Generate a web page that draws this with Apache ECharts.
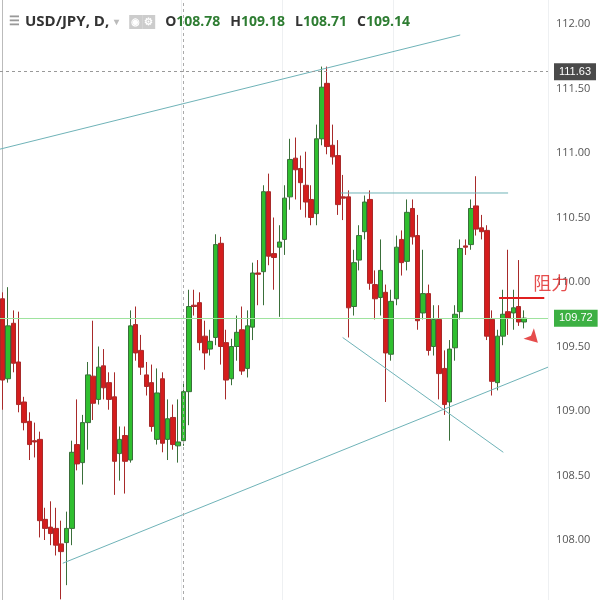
<!DOCTYPE html>
<html><head><meta charset="utf-8">
<script src="https://cdn.jsdelivr.net/npm/echarts@6/dist/echarts.min.js"></script>
<style>html,body{margin:0;padding:0;background:#fff}#c{width:598px;height:600px}</style>
</head><body><div id="c"></div>
<script>
// [open, close, low, high]
const opens  = [109.87,109.25,109.68,109.38,109.07,108.92,108.77,108.78,108.16,108.10,108.09,107.97,107.98,108.09,108.74,108.60,108.91,109.27,109.09,109.35,109.22,109.11,108.67,108.81,108.62,109.67,109.47,109.28,109.22,108.78,109.25,108.78,108.95,108.73,108.77,109.15,109.82,109.84,109.58,109.48,109.57,110.30,109.53,109.25,109.50,109.63,109.33,109.65,110.07,110.08,110.70,110.22,110.27,110.33,110.66,110.96,110.88,110.75,110.64,110.53,111.11,111.54,111.06,110.98,110.66,110.66,109.81,110.17,110.39,110.64,109.98,109.88,109.92,109.44,109.87,110.33,110.16,110.57,110.36,109.76,109.91,109.50,109.71,109.33,109.07,109.49,109.77,110.28,110.29,110.59,110.42,110.40,109.71,109.22,109.58,109.77,109.76,109.81,109.69];
const closes = [109.24,109.66,109.37,109.05,108.91,108.74,108.76,108.15,108.09,108.05,107.96,107.91,108.09,108.68,108.59,108.91,109.28,109.06,109.34,109.18,109.09,108.61,108.78,108.61,109.66,109.45,109.34,109.19,108.88,109.14,108.75,108.94,108.74,108.76,109.15,109.81,109.81,109.53,109.45,109.54,110.29,109.50,109.24,109.50,109.61,109.31,109.66,110.07,110.06,110.70,110.20,110.19,110.31,110.65,110.95,110.87,110.77,110.62,110.50,111.11,111.51,111.05,110.97,110.60,110.65,109.80,110.15,110.36,110.62,109.99,109.87,110.09,109.45,109.85,110.27,110.15,110.54,110.35,109.70,109.91,109.47,109.71,109.29,109.05,109.48,109.75,110.26,110.27,110.57,110.41,110.39,109.58,109.23,109.58,109.75,109.72,109.80,109.69,109.72];
const highs  = [109.92,109.96,109.78,109.77,109.11,108.99,108.91,108.84,108.25,108.30,108.25,108.15,108.22,108.77,109.09,108.97,109.38,109.70,109.50,109.48,109.30,109.30,108.88,108.88,109.78,109.81,109.59,109.38,109.36,109.33,109.30,109.09,109.05,109.09,109.23,109.94,109.94,109.92,109.70,109.63,110.37,110.35,109.63,109.56,109.74,109.81,109.78,110.15,110.17,110.75,110.84,110.50,110.44,110.75,111.11,111.12,110.98,111.01,110.75,111.22,111.67,111.67,111.22,111.10,110.83,110.71,110.25,110.44,110.67,110.71,110.09,110.33,109.98,109.94,110.36,110.40,110.64,110.64,110.52,110.25,109.98,109.82,109.82,109.47,109.55,109.82,110.33,110.33,110.64,110.82,110.52,110.44,109.78,109.63,109.94,110.25,109.94,110.17,109.78];
const lows   = [109.01,109.22,109.30,108.99,108.85,108.62,108.64,108.02,108.00,107.96,107.88,107.54,107.65,107.96,108.54,108.43,108.70,108.93,109.05,109.09,109.01,108.35,108.46,108.36,108.60,109.39,109.28,109.12,108.84,108.74,108.68,108.62,108.70,108.60,108.73,108.89,109.74,109.47,109.32,109.43,109.51,109.36,109.09,109.20,109.39,109.28,109.26,109.55,109.82,109.82,110.13,109.94,109.73,110.21,110.56,110.64,110.56,110.50,110.44,110.44,111.06,110.99,110.91,110.52,110.48,109.57,109.74,110.09,110.33,109.94,109.71,109.74,109.07,109.39,109.82,110.05,110.09,110.29,109.63,109.71,109.43,109.43,109.09,108.97,108.77,109.39,109.71,110.21,110.25,110.36,110.33,109.55,109.12,109.16,109.51,109.59,109.63,109.66,109.64];
const padCount = 4;
const yTicks = [108.00,108.50,109.00,109.50,110.00,110.50,111.00,111.50,112.00];
const yMin = 107.535, yMax = 112.186;
const lastPrice = 109.72, peakPrice = 111.63, crossIndex = 34;
const trendLines = [
  [[-0.5,111.03],[86.0,111.915]],
  [[11.3,107.82],[102.5,109.34]],
  [[63.5,110.69],[95.0,110.69]],
  [[63.9,109.57],[94.1,108.68]]
];
const resistLine = [[93.3,109.876],[101.8,109.876]];

const N = opens.length + padCount;
const cats = Array.from({length:N},(_,i)=>String(i));
const kdata = opens.map((o,i)=>[o,closes[i],lows[i],highs[i]]);
const teal = '#6fb3b8';
const series = [{
  type:'candlestick', data:kdata, barWidth:5,
  itemStyle:{color:'#2fbf2f',color0:'#d41d1d',borderColor:'#3a6f3a',borderColor0:'#a82a2a',borderWidth:1},
  markLine:{symbol:'none',silent:true,animation:false,data:[
    {yAxis:peakPrice,lineStyle:{color:'#999',type:[3,3],width:1},label:{show:true,position:'end',formatter:peakPrice.toFixed(2),color:'#fff',backgroundColor:'#4a4a4a',padding:[3,5],fontSize:11,distance:6}},
    {yAxis:lastPrice,lineStyle:{color:'#9ee39e',type:'solid',width:1},label:{show:true,position:'end',formatter:lastPrice.toFixed(2),color:'#fff',backgroundColor:'#3cb043',padding:[3,5],fontSize:11,distance:6}},
    {xAxis:String(crossIndex),lineStyle:{color:'#aaa',type:[3,3],width:1},label:{show:false}}
  ]}
}];
trendLines.forEach(l=>series.push({type:'line',xAxisIndex:1,data:l,symbol:'none',lineStyle:{color:teal,width:1},silent:true,animation:false}));
series.push({type:'line',xAxisIndex:1,data:resistLine,symbol:'none',lineStyle:{color:'#e02020',width:2},silent:true,animation:false});
series.push({type:'scatter',xAxisIndex:1,data:[[98.8,109.99]],symbolSize:0,label:{show:true,position:'right',formatter:'阻力',color:'#e02020',fontSize:18,fontFamily:'Noto Sans CJK SC'},silent:true,animation:false});
series.push({type:'scatter',xAxisIndex:1,data:[[100.6,109.53]],symbol:'arrow',symbolSize:[11,13],symbolRotate:-135,itemStyle:{color:'#e02020'},silent:true,animation:false});

const chart = echarts.init(document.getElementById('c'));
chart.setOption({
  animation:false,
  backgroundColor:'#fff',
  title:{left:4,top:8,text:'{ic|☰} {b|USD/JPY, D,} {g|▾}  {box|◉}{box|⚙}  {k|O}{v|108.78}  {k|H}{v|109.18}  {k|L}{v|108.71}  {k|C}{v|109.14}',
    textStyle:{rich:{ic:{color:'#999',fontSize:12},b:{color:'#333',fontSize:15,fontFamily:'Open Sans'},g:{color:'#bbb',fontSize:10},box:{color:'#fff',backgroundColor:'#ccc',fontSize:10,padding:[2,2]},k:{color:'#333',fontSize:14,fontFamily:'Open Sans'},v:{color:'#2e7d32',fontSize:14,fontFamily:'Open Sans'}}}},
  grid:{left:-1,right:50,top:0,bottom:0},
  xAxis:[
    {type:'category',data:cats,boundaryGap:true,axisLine:{show:false},axisTick:{show:false},axisLabel:{show:false},
     splitLine:{show:true,interval:(i)=>i===34||i===53||i===74,lineStyle:{color:'#eef0f2'}}},
    {type:'value',min:-0.5,max:N-0.5,show:false}
  ],
  yAxis:{type:'value',position:'right',min:yMin,max:yMax,
    axisLine:{show:true,lineStyle:{color:'#bbb'}},
    axisTick:{show:false},
    axisLabel:{color:'#555',fontSize:11,fontFamily:'Open Sans',margin:8,customValues:yTicks,formatter:v=>v.toFixed(2)},
    splitLine:{show:false}},
  series
});
</script></body></html>
